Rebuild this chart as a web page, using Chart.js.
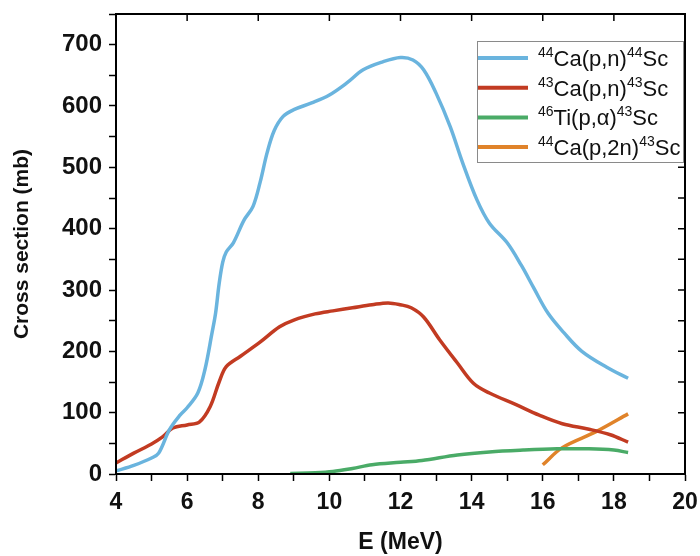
<!DOCTYPE html>
<html>
<head>
<meta charset="utf-8">
<script src="https://cdn.jsdelivr.net/npm/chart.js@4"></script>
<style>
  html, body { margin: 0; padding: 0; background: #fff; }
  #wrap { width: 700px; height: 556px; position: relative; }
</style>
</head>
<body>
<div id="wrap"><canvas id="xsChart" width="700" height="556"></canvas></div>
<script>
  // 44Ca(p,n)44Sc
  const blueE = [4.0, 4.5, 5.0, 5.2, 5.5, 5.8, 6.0, 6.3, 6.5, 6.7, 6.8, 6.9, 7.0, 7.1, 7.3, 7.6, 7.85, 8.05, 8.25, 8.45, 8.7, 9.0, 9.5, 10.0, 10.5, 10.95, 11.5, 12.0, 12.35, 12.65, 13.0, 13.4, 13.75, 14.15, 14.5, 15.0, 15.4, 15.75, 16.15, 16.6, 17.1, 17.8, 18.4];
  const blueXS = [5, 14, 26, 34, 72, 96, 108, 132, 170, 230, 262, 310, 345, 362, 377, 414, 436, 475, 524, 560, 583, 594, 605, 618, 638, 659, 672, 679, 675, 659, 621, 566, 507, 447, 409, 377, 340, 303, 262, 230, 200, 174, 156];

  // 43Ca(p,n)43Sc
  const redE = [4.0, 4.5, 5.0, 5.3, 5.6, 6.0, 6.35, 6.65, 6.9, 7.1, 7.5, 8.05, 8.6, 9.0, 9.6, 10.1, 10.65, 11.2, 11.65, 12.0, 12.3, 12.65, 13.1, 13.6, 14.05, 14.5, 15.25, 15.9, 16.55, 17.3, 17.9, 18.4];
  const redXS = [18, 34, 49, 60, 75, 80, 85, 110, 150, 175, 192, 215, 240, 251, 261, 266, 271, 276, 279, 276, 271, 256, 219, 181, 148, 132, 113, 96, 82, 73, 64, 52];

  // 46Ti(p,alpha)43Sc
  const greenE = [8.9, 9.6, 10.1, 10.65, 11.2, 12.0, 12.6, 13.6, 14.5, 15.45, 16.4, 17.3, 18.0, 18.4];
  const greenXS = [1, 2, 4, 9, 15, 19, 22, 31, 36, 39, 41, 41, 39, 35];

  // 44Ca(p,2n)43Sc
  const orangeE = [16.0, 16.55, 17.5, 18.4];
  const orangeXS = [15, 43, 69, 98];

  // legend labels: [text, isSuperscript]
  const seriesLabels = [
    [["44", true], ["Ca(p,n)", false], ["44", true], ["Sc", false]],
    [["43", true], ["Ca(p,n)", false], ["43", true], ["Sc", false]],
    [["46", true], ["Ti(p,\u03b1)", false], ["43", true], ["Sc", false]],
    [["44", true], ["Ca(p,2n)", false], ["43", true], ["Sc", false]]
  ];
  const seriesColors = ["#6ab4de", "#c23b22", "#4aab67", "#e0832a"];

  function toPoints(xs, ys) {
    return xs.map((x, i) => ({ x: x, y: ys[i] }));
  }

  const FONT = "'Liberation Sans', Arial, sans-serif";

  const framePlugin = {
    id: "frameTicks",
    afterDraw(chart) {
      const ctx = chart.ctx;
      const a = chart.chartArea;
      const xs = chart.scales.x;
      const ys = chart.scales.y;
      ctx.save();
      ctx.strokeStyle = "#000";
      ctx.lineWidth = 2;
      ctx.strokeRect(a.left, a.top, a.right - a.left, a.bottom - a.top);
      ctx.lineWidth = 1.5;
      ctx.beginPath();
      xs.ticks.forEach((t) => {
        if (t.value % 2 !== 0) return;
        const px = xs.getPixelForValue(t.value);
        ctx.moveTo(px, a.top);
        ctx.lineTo(px, a.top + 7);
      });
      ys.ticks.forEach((t) => {
        const py = ys.getPixelForValue(t.value);
        ctx.moveTo(a.right, py);
        ctx.lineTo(a.right - 7, py);
      });
      ctx.stroke();

      // legend box
      const bx = 477, by = 41, bw = 206, bh = 121;
      ctx.fillStyle = "#fff";
      ctx.fillRect(bx, by, bw, bh);
      ctx.strokeStyle = "#8a8a8a";
      ctx.lineWidth = 1;
      ctx.strokeRect(bx + 0.5, by + 0.5, bw, bh);
      ctx.textBaseline = "alphabetic";
      seriesLabels.forEach((parts, i) => {
        const cy = 58 + i * 29.7;
        ctx.strokeStyle = seriesColors[i];
        ctx.lineWidth = 4;
        ctx.beginPath();
        ctx.moveTo(478, cy);
        ctx.lineTo(528, cy);
        ctx.stroke();
        let tx = 538;
        const base = cy + 8;
        ctx.fillStyle = "#111";
        parts.forEach(([txt, sup]) => {
          ctx.font = sup ? "14px " + FONT : "22px " + FONT;
          ctx.fillText(txt, tx, sup ? base - 9 : base);
          tx += ctx.measureText(txt).width;
        });
      });
      ctx.restore();
    }
  };

  const lineStyle = (label, color, pts) => ({
    label: label,
    data: pts,
    borderColor: color,
    backgroundColor: color,
    borderWidth: 3.5,
    pointRadius: 0,
    fill: false,
    tension: 0.35
  });

  new Chart(document.getElementById("xsChart"), {
    type: "line",
    data: {
      datasets: [
        lineStyle("44Ca(p,n)44Sc", seriesColors[0], toPoints(blueE, blueXS)),
        lineStyle("43Ca(p,n)43Sc", seriesColors[1], toPoints(redE, redXS)),
        lineStyle("46Ti(p,a)43Sc", seriesColors[2], toPoints(greenE, greenXS)),
        lineStyle("44Ca(p,2n)43Sc", seriesColors[3], toPoints(orangeE, orangeXS))
      ]
    },
    options: {
      responsive: false,
      animation: false,
      layout: { padding: { top: 14, right: 15, left: 0, bottom: 0 } },
      plugins: {
        legend: { display: false },
        tooltip: { enabled: false }
      },
      scales: {
        x: {
          type: "linear",
          min: 4,
          max: 20,
          afterFit: (s) => {
            s.height = 82;
            s.paddingLeft = 0;
            s.paddingRight = 0;
          },
          ticks: {
            stepSize: 1,
            autoSkip: false,
            maxRotation: 0,
            color: "#111",
            padding: 8,
            font: { family: FONT, size: 23, weight: "bold" },
            callback: (v) => (v % 2 === 0 ? v : "")
          },
          grid: {
            drawOnChartArea: false,
            tickLength: 7,
            tickColor: "#000",
            tickWidth: 1.5
          },
          border: { color: "#000", width: 2 },
          title: {
            display: true,
            text: "E (MeV)",
            color: "#111",
            font: { family: FONT, size: 23, weight: "bold" },
            padding: { top: 0, bottom: 0 }
          }
        },
        y: {
          min: 0,
          max: 750,
          afterFit: (s) => {
            s.width = 116;
            s.paddingTop = 0;
            s.paddingBottom = 0;
          },
          ticks: {
            stepSize: 50,
            autoSkip: false,
            color: "#111",
            padding: 7,
            font: { family: FONT, size: 24, weight: "bold" },
            callback: (v) => (v % 100 === 0 ? v : "")
          },
          grid: {
            drawOnChartArea: false,
            tickLength: 7,
            tickColor: "#000",
            tickWidth: 1.5
          },
          border: { color: "#000", width: 2 },
          title: {
            display: true,
            text: "Cross section (mb)",
            color: "#111",
            font: { family: FONT, size: 21, weight: "bold" },
            padding: { top: 10, bottom: 0 }
          }
        }
      }
    },
    plugins: [framePlugin]
  });
</script>
</body>
</html>
